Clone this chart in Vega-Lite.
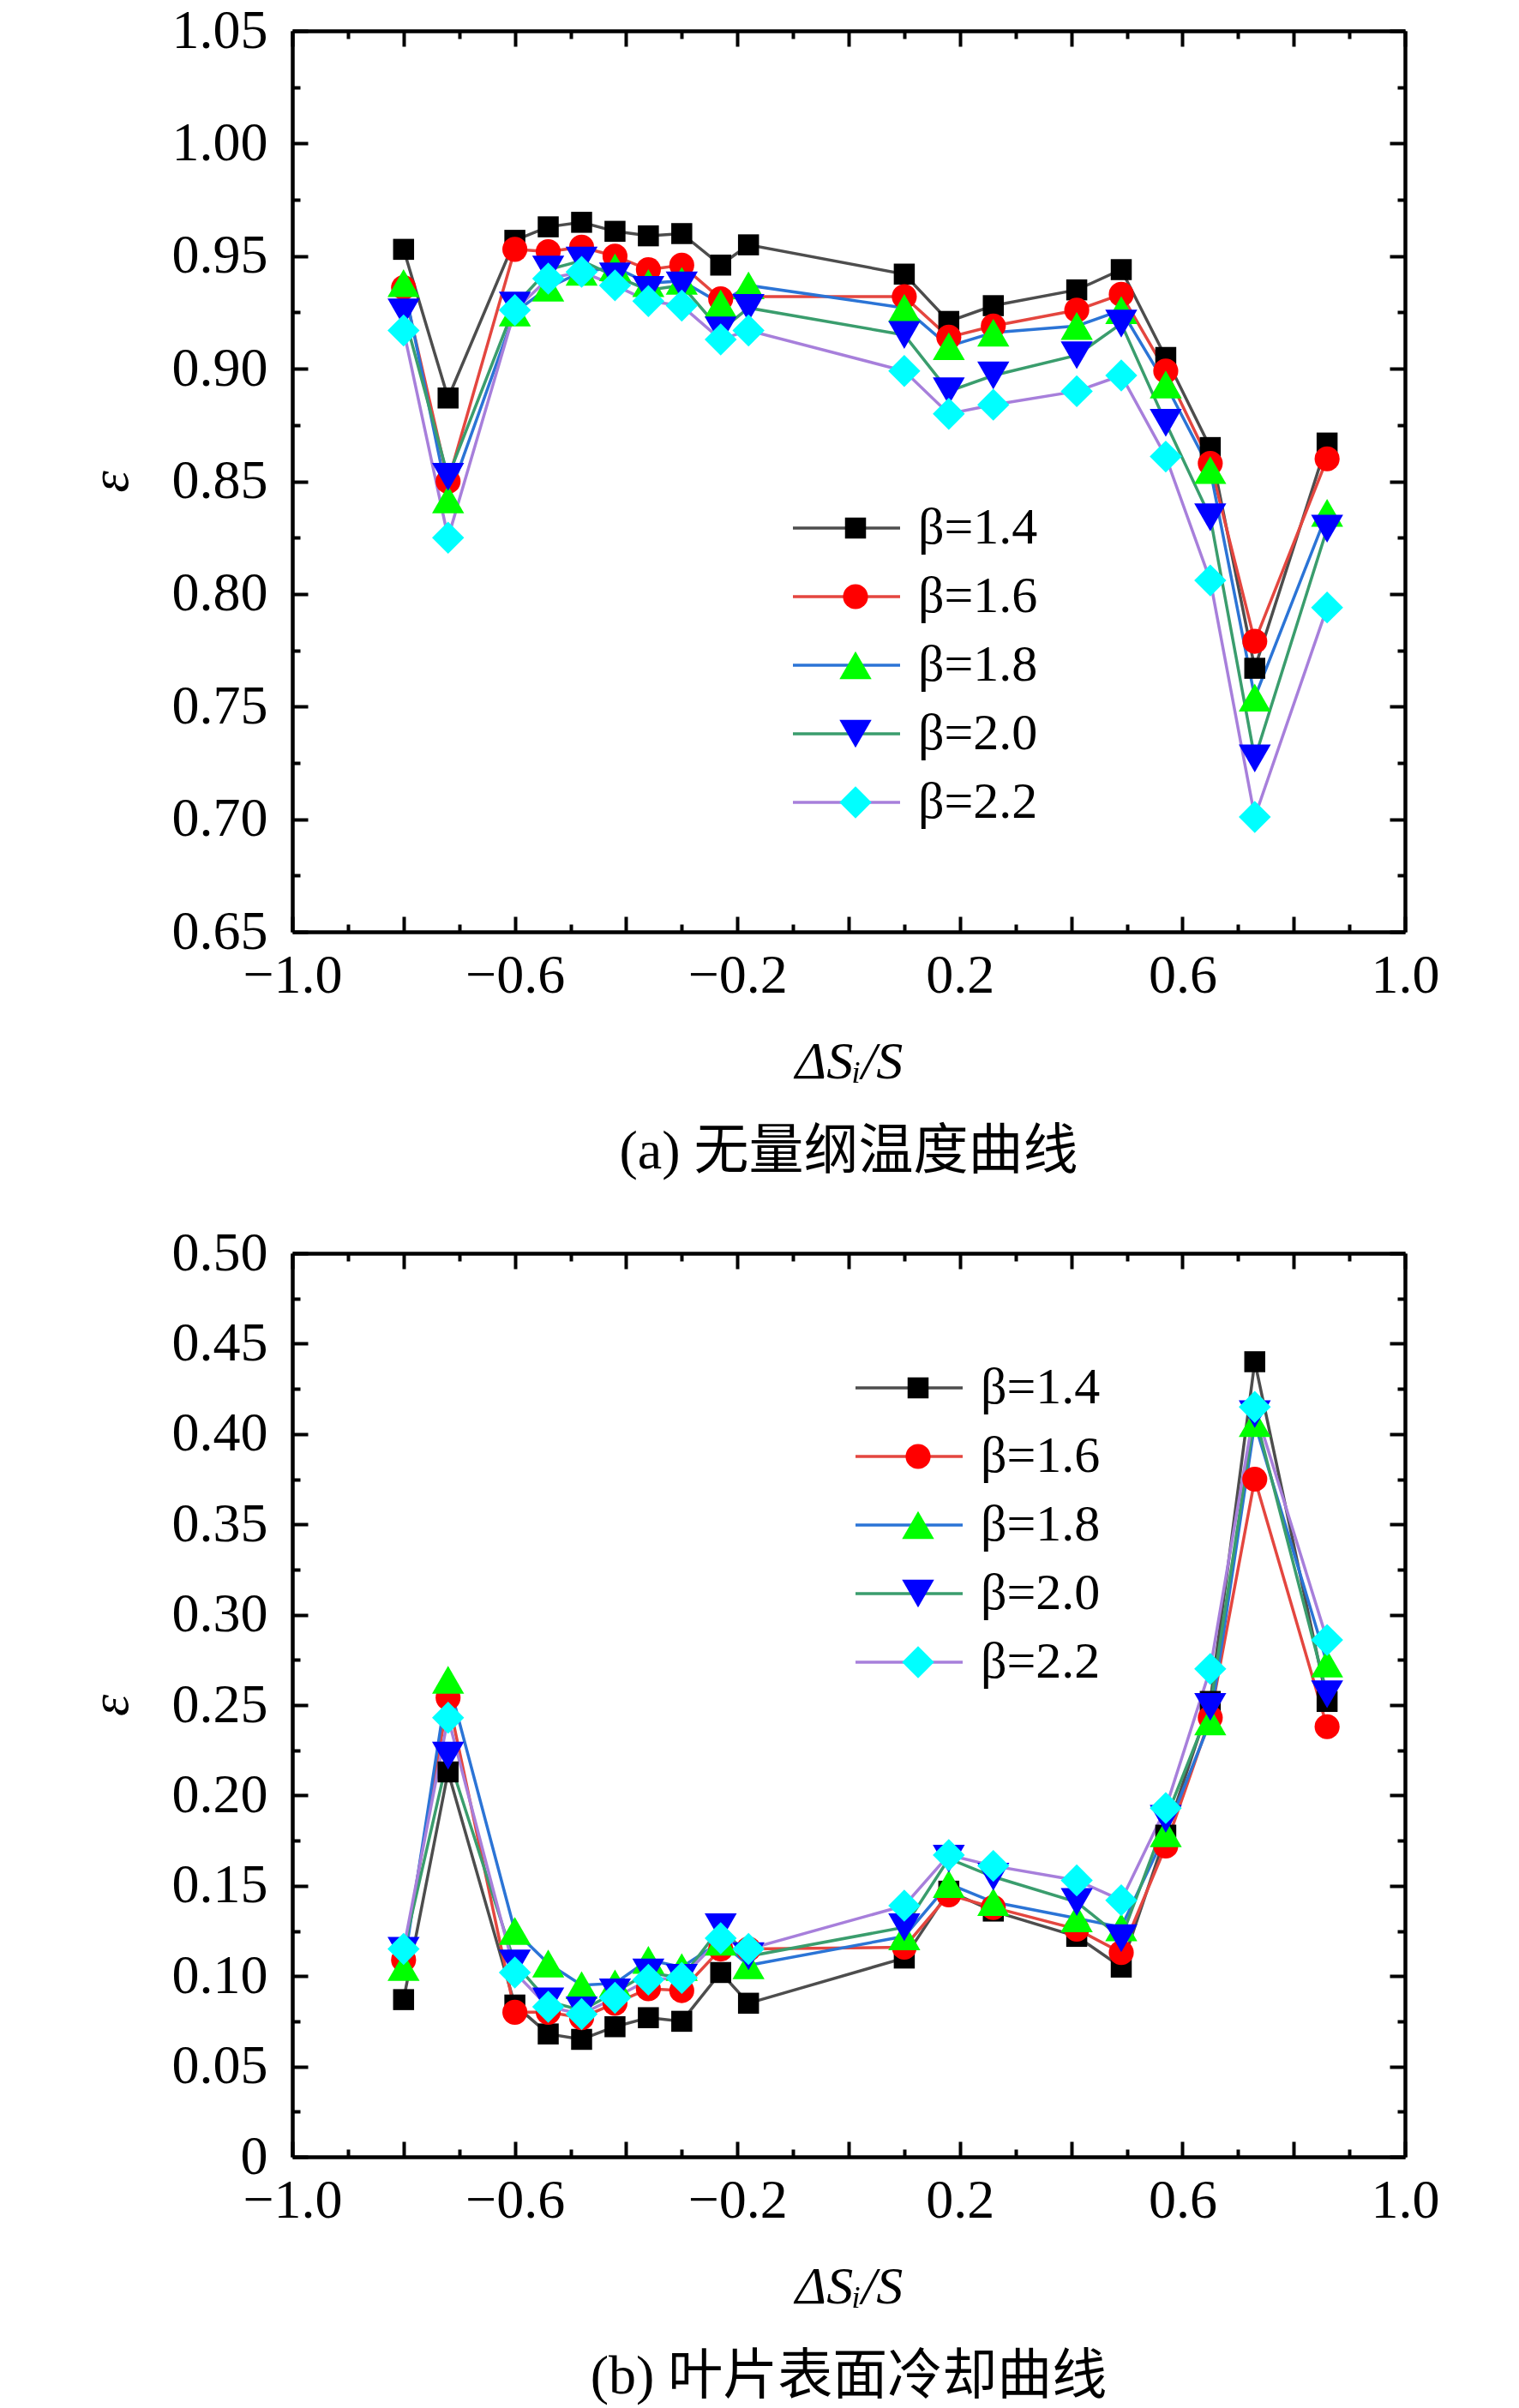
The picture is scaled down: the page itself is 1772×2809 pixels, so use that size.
{
  "$schema": "https://vega.github.io/schema/vega-lite/v6.json",
  "background": "white",
  "padding": {"left": 97, "top": 4, "right": 20, "bottom": 10},
  "datasets": {
    "temp": [
      {"s": "β=1.4", "x": -0.8, "y": 0.953}, {"s": "β=1.4", "x": -0.72, "y": 0.887}, {"s": "β=1.4", "x": -0.6, "y": 0.957},
      {"s": "β=1.4", "x": -0.54, "y": 0.963}, {"s": "β=1.4", "x": -0.48, "y": 0.965}, {"s": "β=1.4", "x": -0.42, "y": 0.961},
      {"s": "β=1.4", "x": -0.36, "y": 0.959}, {"s": "β=1.4", "x": -0.3, "y": 0.96}, {"s": "β=1.4", "x": -0.23, "y": 0.946},
      {"s": "β=1.4", "x": -0.18, "y": 0.955}, {"s": "β=1.4", "x": 0.1, "y": 0.942}, {"s": "β=1.4", "x": 0.18, "y": 0.921},
      {"s": "β=1.4", "x": 0.26, "y": 0.928}, {"s": "β=1.4", "x": 0.41, "y": 0.935}, {"s": "β=1.4", "x": 0.49, "y": 0.944},
      {"s": "β=1.4", "x": 0.57, "y": 0.905}, {"s": "β=1.4", "x": 0.65, "y": 0.865}, {"s": "β=1.4", "x": 0.73, "y": 0.767},
      {"s": "β=1.4", "x": 0.86, "y": 0.867},
      {"s": "β=1.6", "x": -0.8, "y": 0.936}, {"s": "β=1.6", "x": -0.72, "y": 0.85}, {"s": "β=1.6", "x": -0.6, "y": 0.953},
      {"s": "β=1.6", "x": -0.54, "y": 0.952}, {"s": "β=1.6", "x": -0.48, "y": 0.954}, {"s": "β=1.6", "x": -0.42, "y": 0.95},
      {"s": "β=1.6", "x": -0.36, "y": 0.944}, {"s": "β=1.6", "x": -0.3, "y": 0.946}, {"s": "β=1.6", "x": -0.23, "y": 0.931},
      {"s": "β=1.6", "x": -0.18, "y": 0.932}, {"s": "β=1.6", "x": 0.1, "y": 0.932}, {"s": "β=1.6", "x": 0.18, "y": 0.914},
      {"s": "β=1.6", "x": 0.26, "y": 0.919}, {"s": "β=1.6", "x": 0.41, "y": 0.926}, {"s": "β=1.6", "x": 0.49, "y": 0.933},
      {"s": "β=1.6", "x": 0.57, "y": 0.899}, {"s": "β=1.6", "x": 0.65, "y": 0.858}, {"s": "β=1.6", "x": 0.73, "y": 0.779},
      {"s": "β=1.6", "x": 0.86, "y": 0.86},
      {"s": "β=1.8", "x": -0.8, "y": 0.938}, {"s": "β=1.8", "x": -0.72, "y": 0.842}, {"s": "β=1.8", "x": -0.6, "y": 0.925},
      {"s": "β=1.8", "x": -0.54, "y": 0.936}, {"s": "β=1.8", "x": -0.48, "y": 0.943}, {"s": "β=1.8", "x": -0.42, "y": 0.945},
      {"s": "β=1.8", "x": -0.36, "y": 0.938}, {"s": "β=1.8", "x": -0.3, "y": 0.939}, {"s": "β=1.8", "x": -0.23, "y": 0.929},
      {"s": "β=1.8", "x": -0.18, "y": 0.937}, {"s": "β=1.8", "x": 0.1, "y": 0.927}, {"s": "β=1.8", "x": 0.18, "y": 0.91},
      {"s": "β=1.8", "x": 0.26, "y": 0.916}, {"s": "β=1.8", "x": 0.41, "y": 0.919}, {"s": "β=1.8", "x": 0.49, "y": 0.926},
      {"s": "β=1.8", "x": 0.57, "y": 0.893}, {"s": "β=1.8", "x": 0.65, "y": 0.855}, {"s": "β=1.8", "x": 0.73, "y": 0.754},
      {"s": "β=1.8", "x": 0.86, "y": 0.836},
      {"s": "β=2.0", "x": -0.8, "y": 0.925}, {"s": "β=2.0", "x": -0.72, "y": 0.852}, {"s": "β=2.0", "x": -0.6, "y": 0.928},
      {"s": "β=2.0", "x": -0.54, "y": 0.944}, {"s": "β=2.0", "x": -0.48, "y": 0.948}, {"s": "β=2.0", "x": -0.42, "y": 0.941},
      {"s": "β=2.0", "x": -0.36, "y": 0.935}, {"s": "β=2.0", "x": -0.3, "y": 0.937}, {"s": "β=2.0", "x": -0.23, "y": 0.917},
      {"s": "β=2.0", "x": -0.18, "y": 0.927}, {"s": "β=2.0", "x": 0.1, "y": 0.915}, {"s": "β=2.0", "x": 0.18, "y": 0.89},
      {"s": "β=2.0", "x": 0.26, "y": 0.897}, {"s": "β=2.0", "x": 0.41, "y": 0.906}, {"s": "β=2.0", "x": 0.49, "y": 0.92},
      {"s": "β=2.0", "x": 0.57, "y": 0.876}, {"s": "β=2.0", "x": 0.65, "y": 0.834}, {"s": "β=2.0", "x": 0.73, "y": 0.727},
      {"s": "β=2.0", "x": 0.86, "y": 0.829},
      {"s": "β=2.2", "x": -0.8, "y": 0.917}, {"s": "β=2.2", "x": -0.72, "y": 0.825}, {"s": "β=2.2", "x": -0.6, "y": 0.926},
      {"s": "β=2.2", "x": -0.54, "y": 0.94}, {"s": "β=2.2", "x": -0.48, "y": 0.943}, {"s": "β=2.2", "x": -0.42, "y": 0.937},
      {"s": "β=2.2", "x": -0.36, "y": 0.93}, {"s": "β=2.2", "x": -0.3, "y": 0.928}, {"s": "β=2.2", "x": -0.23, "y": 0.913},
      {"s": "β=2.2", "x": -0.18, "y": 0.917}, {"s": "β=2.2", "x": 0.1, "y": 0.899}, {"s": "β=2.2", "x": 0.18, "y": 0.88},
      {"s": "β=2.2", "x": 0.26, "y": 0.884}, {"s": "β=2.2", "x": 0.41, "y": 0.89}, {"s": "β=2.2", "x": 0.49, "y": 0.897},
      {"s": "β=2.2", "x": 0.57, "y": 0.861}, {"s": "β=2.2", "x": 0.65, "y": 0.806}, {"s": "β=2.2", "x": 0.73, "y": 0.701},
      {"s": "β=2.2", "x": 0.86, "y": 0.794}
    ],
    "cool": [
      {"s": "β=1.4", "x": -0.8, "y": 0.087}, {"s": "β=1.4", "x": -0.72, "y": 0.213}, {"s": "β=1.4", "x": -0.6, "y": 0.084},
      {"s": "β=1.4", "x": -0.54, "y": 0.068}, {"s": "β=1.4", "x": -0.48, "y": 0.065}, {"s": "β=1.4", "x": -0.42, "y": 0.072},
      {"s": "β=1.4", "x": -0.36, "y": 0.077}, {"s": "β=1.4", "x": -0.3, "y": 0.075}, {"s": "β=1.4", "x": -0.23, "y": 0.102},
      {"s": "β=1.4", "x": -0.18, "y": 0.085}, {"s": "β=1.4", "x": 0.1, "y": 0.11}, {"s": "β=1.4", "x": 0.18, "y": 0.147},
      {"s": "β=1.4", "x": 0.26, "y": 0.136}, {"s": "β=1.4", "x": 0.41, "y": 0.122}, {"s": "β=1.4", "x": 0.49, "y": 0.105},
      {"s": "β=1.4", "x": 0.57, "y": 0.178}, {"s": "β=1.4", "x": 0.65, "y": 0.252}, {"s": "β=1.4", "x": 0.73, "y": 0.44},
      {"s": "β=1.4", "x": 0.86, "y": 0.252},
      {"s": "β=1.6", "x": -0.8, "y": 0.109}, {"s": "β=1.6", "x": -0.72, "y": 0.254}, {"s": "β=1.6", "x": -0.6, "y": 0.08},
      {"s": "β=1.6", "x": -0.54, "y": 0.08}, {"s": "β=1.6", "x": -0.48, "y": 0.077}, {"s": "β=1.6", "x": -0.42, "y": 0.085},
      {"s": "β=1.6", "x": -0.36, "y": 0.093}, {"s": "β=1.6", "x": -0.3, "y": 0.092}, {"s": "β=1.6", "x": -0.23, "y": 0.115},
      {"s": "β=1.6", "x": -0.18, "y": 0.115}, {"s": "β=1.6", "x": 0.1, "y": 0.116}, {"s": "β=1.6", "x": 0.18, "y": 0.145},
      {"s": "β=1.6", "x": 0.26, "y": 0.138}, {"s": "β=1.6", "x": 0.41, "y": 0.126}, {"s": "β=1.6", "x": 0.49, "y": 0.113},
      {"s": "β=1.6", "x": 0.57, "y": 0.172}, {"s": "β=1.6", "x": 0.65, "y": 0.243}, {"s": "β=1.6", "x": 0.73, "y": 0.375},
      {"s": "β=1.6", "x": 0.86, "y": 0.238},
      {"s": "β=1.8", "x": -0.8, "y": 0.105}, {"s": "β=1.8", "x": -0.72, "y": 0.264}, {"s": "β=1.8", "x": -0.6, "y": 0.125},
      {"s": "β=1.8", "x": -0.54, "y": 0.107}, {"s": "β=1.8", "x": -0.48, "y": 0.095}, {"s": "β=1.8", "x": -0.42, "y": 0.096},
      {"s": "β=1.8", "x": -0.36, "y": 0.109}, {"s": "β=1.8", "x": -0.3, "y": 0.105}, {"s": "β=1.8", "x": -0.23, "y": 0.119},
      {"s": "β=1.8", "x": -0.18, "y": 0.106}, {"s": "β=1.8", "x": 0.1, "y": 0.122}, {"s": "β=1.8", "x": 0.18, "y": 0.151},
      {"s": "β=1.8", "x": 0.26, "y": 0.141}, {"s": "β=1.8", "x": 0.41, "y": 0.132}, {"s": "β=1.8", "x": 0.49, "y": 0.127},
      {"s": "β=1.8", "x": 0.57, "y": 0.179}, {"s": "β=1.8", "x": 0.65, "y": 0.241}, {"s": "β=1.8", "x": 0.73, "y": 0.406},
      {"s": "β=1.8", "x": 0.86, "y": 0.273},
      {"s": "β=2.0", "x": -0.8, "y": 0.114}, {"s": "β=2.0", "x": -0.72, "y": 0.222}, {"s": "β=2.0", "x": -0.6, "y": 0.107},
      {"s": "β=2.0", "x": -0.54, "y": 0.086}, {"s": "β=2.0", "x": -0.48, "y": 0.081}, {"s": "β=2.0", "x": -0.42, "y": 0.091},
      {"s": "β=2.0", "x": -0.36, "y": 0.102}, {"s": "β=2.0", "x": -0.3, "y": 0.099}, {"s": "β=2.0", "x": -0.23, "y": 0.127},
      {"s": "β=2.0", "x": -0.18, "y": 0.111}, {"s": "β=2.0", "x": 0.1, "y": 0.127}, {"s": "β=2.0", "x": 0.18, "y": 0.165},
      {"s": "β=2.0", "x": 0.26, "y": 0.155}, {"s": "β=2.0", "x": 0.41, "y": 0.141}, {"s": "β=2.0", "x": 0.49, "y": 0.121},
      {"s": "β=2.0", "x": 0.57, "y": 0.187}, {"s": "β=2.0", "x": 0.65, "y": 0.249}, {"s": "β=2.0", "x": 0.73, "y": 0.411},
      {"s": "β=2.0", "x": 0.86, "y": 0.256},
      {"s": "β=2.2", "x": -0.8, "y": 0.115}, {"s": "β=2.2", "x": -0.72, "y": 0.243}, {"s": "β=2.2", "x": -0.6, "y": 0.102},
      {"s": "β=2.2", "x": -0.54, "y": 0.083}, {"s": "β=2.2", "x": -0.48, "y": 0.079}, {"s": "β=2.2", "x": -0.42, "y": 0.088},
      {"s": "β=2.2", "x": -0.36, "y": 0.098}, {"s": "β=2.2", "x": -0.3, "y": 0.099}, {"s": "β=2.2", "x": -0.23, "y": 0.121},
      {"s": "β=2.2", "x": -0.18, "y": 0.115}, {"s": "β=2.2", "x": 0.1, "y": 0.139}, {"s": "β=2.2", "x": 0.18, "y": 0.167},
      {"s": "β=2.2", "x": 0.26, "y": 0.161}, {"s": "β=2.2", "x": 0.41, "y": 0.153}, {"s": "β=2.2", "x": 0.49, "y": 0.142},
      {"s": "β=2.2", "x": 0.57, "y": 0.193}, {"s": "β=2.2", "x": 0.65, "y": 0.27}, {"s": "β=2.2", "x": 0.73, "y": 0.415},
      {"s": "β=2.2", "x": 0.86, "y": 0.286}
    ]
  },
  "spacing": 54,
  "resolve": {
    "scale": {"stroke": "independent", "fill": "independent", "shape": "independent", "size": "independent"},
    "legend": {"stroke": "independent", "fill": "independent", "shape": "independent", "size": "independent"}
  },
  "vconcat": [
    {
      "width": 1298,
      "height": 1051,
      "data": {"name": "temp"},
      "title": {"text": "(a) 无量纲温度曲线", "orient": "bottom", "frame": "group", "offset": 43},
      "resolve": {"axis": {"x": "independent", "y": "independent"}},
      "layer": [
        {
          "mark": {"type": "line", "strokeWidth": 3.5},
          "encoding": {
            "x": {
              "field": "x", "type": "quantitative",
              "scale": {"domain": [-1, 1], "nice": false, "zero": false},
              "axis": {
                "orient": "bottom", "title": "ΔSᵢ/S",
                "values": [-1, -0.9, -0.8, -0.7, -0.6, -0.5, -0.4, -0.3, -0.2, -0.1, 0, 0.1, 0.2, 0.3, 0.4, 0.5, 0.6, 0.7, 0.8, 0.9, 1],
                "tickSize": {"condition": {"test": "round(datum.value*10)%2==0", "value": -18}, "value": -9},
                "labelExpr": "(round(datum.value*10)+10)%4==0 ? format(datum.value,'.1f') : ''",
                "labelPadding": 37, "titlePadding": 29
              }
            },
            "y": {
              "field": "y", "type": "quantitative",
              "scale": {"domain": [0.65, 1.05], "nice": false, "zero": false},
              "axis": {
                "orient": "left", "title": "ε",
                "values": [0.65, 0.675, 0.7, 0.725, 0.75, 0.775, 0.8, 0.825, 0.85, 0.875, 0.9, 0.925, 0.95, 0.975, 1, 1.025, 1.05],
                "tickSize": {"condition": {"test": "round(datum.value*40)%2==0", "value": -18}, "value": -9},
                "labelExpr": "round(datum.value*40)%2==0 ? format(datum.value,'.2f') : ''",
                "labelPadding": 47, "titlePadding": 39
              }
            },
            "stroke": {
              "field": "s", "type": "nominal",
              "scale": {"domain": ["β=1.4", "β=1.6", "β=1.8", "β=2.0", "β=2.2"], "range": ["#4d4d4d", "#e4463f", "#2b74d6", "#3a9d6d", "#a77fdb"]},
              "legend": {"orient": "none", "legendX": 582, "legendY": 550, "symbolSize": 15625, "symbolStrokeWidth": 3.5, "labelExpr": "''"}
            }
          }
        },
        {
          "mark": {"type": "point", "filled": true, "opacity": 1},
          "encoding": {
            "x": {
              "field": "x", "type": "quantitative",
              "axis": {
                "orient": "top", "title": null, "labels": false,
                "values": [-1, -0.9, -0.8, -0.7, -0.6, -0.5, -0.4, -0.3, -0.2, -0.1, 0, 0.1, 0.2, 0.3, 0.4, 0.5, 0.6, 0.7, 0.8, 0.9, 1],
                "tickSize": {"condition": {"test": "round(datum.value*10)%2==0", "value": -18}, "value": -9}
              }
            },
            "y": {
              "field": "y", "type": "quantitative",
              "axis": {
                "orient": "right", "title": null, "labels": false,
                "values": [0.65, 0.675, 0.7, 0.725, 0.75, 0.775, 0.8, 0.825, 0.85, 0.875, 0.9, 0.925, 0.95, 0.975, 1, 1.025, 1.05],
                "tickSize": {"condition": {"test": "round(datum.value*40)%2==0", "value": -18}, "value": -9}
              }
            },
            "fill": {
              "field": "s", "type": "nominal",
              "scale": {"range": ["#000000", "#ff0000", "#00ff00", "#0000ff", "#00ffff"]},
              "legend": {"orient": "none", "legendX": 627, "legendY": 550, "labelOffset": 43}
            },
            "shape": {
              "field": "s", "type": "nominal",
              "scale": {"range": ["square", "circle", "triangle-up", "triangle-down", "diamond"]},
              "legend": {"orient": "none", "legendX": 627, "legendY": 550, "labelOffset": 43}
            },
            "size": {
              "field": "s", "type": "ordinal",
              "scale": {"type": "ordinal", "range": [600, 850, 1400, 1400, 1400]},
              "legend": {"orient": "none", "legendX": 627, "legendY": 550, "labelOffset": 43}
            }
          }
        }
      ]
    },
    {
      "width": 1298,
      "height": 1054,
      "data": {"name": "cool"},
      "title": {"text": "(b) 叶片表面冷却曲线", "orient": "bottom", "frame": "group", "offset": 43},
      "resolve": {"axis": {"x": "independent", "y": "independent"}},
      "layer": [
        {
          "mark": {"type": "line", "strokeWidth": 3.5},
          "encoding": {
            "x": {
              "field": "x", "type": "quantitative",
              "scale": {"domain": [-1, 1], "nice": false, "zero": false},
              "axis": {
                "orient": "bottom", "title": "ΔSᵢ/S",
                "values": [-1, -0.9, -0.8, -0.7, -0.6, -0.5, -0.4, -0.3, -0.2, -0.1, 0, 0.1, 0.2, 0.3, 0.4, 0.5, 0.6, 0.7, 0.8, 0.9, 1],
                "tickSize": {"condition": {"test": "round(datum.value*10)%2==0", "value": -18}, "value": -9},
                "labelExpr": "(round(datum.value*10)+10)%4==0 ? format(datum.value,'.1f') : ''",
                "labelPadding": 37, "titlePadding": 29
              }
            },
            "y": {
              "field": "y", "type": "quantitative",
              "scale": {"domain": [0, 0.5], "nice": false, "zero": false},
              "axis": {
                "orient": "left", "title": "ε",
                "values": [0, 0.025, 0.05, 0.075, 0.1, 0.125, 0.15, 0.175, 0.2, 0.225, 0.25, 0.275, 0.3, 0.325, 0.35, 0.375, 0.4, 0.425, 0.45, 0.475, 0.5],
                "tickSize": {"condition": {"test": "round(datum.value*40)%2==0", "value": -18}, "value": -9},
                "labelExpr": "round(datum.value*40)%2==0 ? (datum.value==0 ? '0' : format(datum.value,'.2f')) : ''",
                "labelPadding": 47, "titlePadding": 39
              }
            },
            "stroke": {
              "field": "s", "type": "nominal",
              "scale": {"domain": ["β=1.4", "β=1.6", "β=1.8", "β=2.0", "β=2.2"], "range": ["#4d4d4d", "#e4463f", "#2b74d6", "#3a9d6d", "#a77fdb"]},
              "legend": {"orient": "none", "legendX": 655, "legendY": 127, "symbolSize": 15625, "symbolStrokeWidth": 3.5, "labelExpr": "''"}
            }
          }
        },
        {
          "mark": {"type": "point", "filled": true, "opacity": 1},
          "encoding": {
            "x": {
              "field": "x", "type": "quantitative",
              "axis": {
                "orient": "top", "title": null, "labels": false,
                "values": [-1, -0.9, -0.8, -0.7, -0.6, -0.5, -0.4, -0.3, -0.2, -0.1, 0, 0.1, 0.2, 0.3, 0.4, 0.5, 0.6, 0.7, 0.8, 0.9, 1],
                "tickSize": {"condition": {"test": "round(datum.value*10)%2==0", "value": -18}, "value": -9}
              }
            },
            "y": {
              "field": "y", "type": "quantitative",
              "axis": {
                "orient": "right", "title": null, "labels": false,
                "values": [0, 0.025, 0.05, 0.075, 0.1, 0.125, 0.15, 0.175, 0.2, 0.225, 0.25, 0.275, 0.3, 0.325, 0.35, 0.375, 0.4, 0.425, 0.45, 0.475, 0.5],
                "tickSize": {"condition": {"test": "round(datum.value*40)%2==0", "value": -18}, "value": -9}
              }
            },
            "fill": {
              "field": "s", "type": "nominal",
              "scale": {"range": ["#000000", "#ff0000", "#00ff00", "#0000ff", "#00ffff"]},
              "legend": {"orient": "none", "legendX": 700, "legendY": 127, "labelOffset": 43}
            },
            "shape": {
              "field": "s", "type": "nominal",
              "scale": {"range": ["square", "circle", "triangle-up", "triangle-down", "diamond"]},
              "legend": {"orient": "none", "legendX": 700, "legendY": 127, "labelOffset": 43}
            },
            "size": {
              "field": "s", "type": "ordinal",
              "scale": {"type": "ordinal", "range": [600, 850, 1400, 1400, 1400]},
              "legend": {"orient": "none", "legendX": 700, "legendY": 127, "labelOffset": 43}
            }
          }
        }
      ]
    }
  ],
  "config": {
    "view": {"stroke": null},
    "axis": {
      "grid": false,
      "domainColor": "black", "domainWidth": 4.5,
      "tickColor": "black", "tickWidth": 4,
      "labelFont": "Liberation Serif", "labelFontSize": 64, "labelColor": "black",
      "labelOverlap": false, "labelFlush": false, "labelBound": false,
      "titleFont": "Liberation Serif", "titleFontSize": 62, "titleFontStyle": "italic",
      "titleFontWeight": "normal", "titleColor": "black"
    },
    "axisLeft": {"titleFontSize": 64},
    "legend": {
      "title": null, "padding": 0, "clipHeight": 60, "rowPadding": 20,
      "labelFont": "Liberation Serif", "labelFontSize": 60, "labelColor": "black",
      "labelLimit": 0, "symbolStrokeWidth": 0
    },
    "title": {
      "font": "Liberation Serif, Noto Sans CJK SC", "fontSize": 64, "fontWeight": "normal", "color": "black"
    }
  }
}
